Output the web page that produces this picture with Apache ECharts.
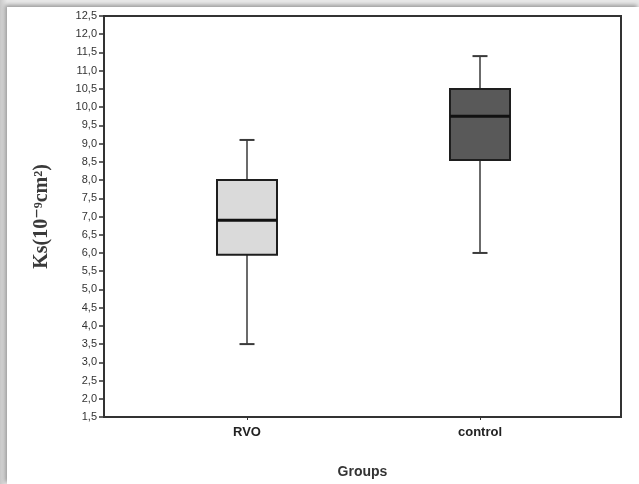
<!DOCTYPE html>
<html>
<head>
<meta charset="utf-8">
<script src="https://cdn.jsdelivr.net/npm/echarts@6/dist/echarts.min.js"></script>
<style>
  html, body { margin: 0; padding: 0; width: 639px; height: 484px; overflow: hidden; }
  body { background: linear-gradient(to right, #c8c8c8 0px, #e8e8e8 7px); }
  #main {
    position: absolute; left: 7px; top: 7px; width: 632px; height: 477px;
    background: #fff; box-shadow: -2px -2px 4px #999;
  }
</style>
</head>
<body>
<div id="main"></div>
<script>
  // groups on the x axis
  const groups = ['RVO', 'control'];
  // [min, q1, median, q3, max] per group
  const rvoStats = [3.5, 5.95, 6.9, 8.0, 9.1];
  const controlStats = [6.0, 8.55, 9.75, 10.5, 11.4];
  const boxFill = ['#dadada', '#595959'];

  const yMin = 1.5;
  const yMax = 12.5;
  const yStep = 0.5;

  const boxData = [
    [0].concat(rvoStats),
    [1].concat(controlStats)
  ];

  let myChart = echarts.init(document.getElementById('main'));

  function renderBox(params, api) {
    const x = api.value(0);
    const pMin = api.coord([x, api.value(1)]);
    const pQ1 = api.coord([x, api.value(2)]);
    const pMed = api.coord([x, api.value(3)]);
    const pQ3 = api.coord([x, api.value(4)]);
    const pMax = api.coord([x, api.value(5)]);
    const cx = pMed[0];
    const bw = 60;
    const cap = 15;
    const lineStyle = { stroke: '#3a3a3a', lineWidth: 1.5 };
    return {
      type: 'group',
      children: [
        { type: 'line', shape: { x1: cx, y1: pQ3[1], x2: cx, y2: pMax[1] }, style: lineStyle },
        { type: 'line', shape: { x1: cx, y1: pQ1[1], x2: cx, y2: pMin[1] }, style: lineStyle },
        { type: 'line', shape: { x1: cx - cap / 2, y1: pMax[1], x2: cx + cap / 2, y2: pMax[1] }, style: { stroke: '#3a3a3a', lineWidth: 2 } },
        { type: 'line', shape: { x1: cx - cap / 2, y1: pMin[1], x2: cx + cap / 2, y2: pMin[1] }, style: { stroke: '#3a3a3a', lineWidth: 2 } },
        {
          type: 'rect',
          shape: { x: cx - bw / 2, y: pQ3[1], width: bw, height: pQ1[1] - pQ3[1] },
          style: { fill: boxFill[x], stroke: '#1e1e1e', lineWidth: 2 }
        },
        { type: 'line', shape: { x1: cx - bw / 2, y1: pMed[1], x2: cx + bw / 2, y2: pMed[1] }, style: { stroke: '#111', lineWidth: 3 } }
      ]
    };
  }

  let option = {
    animation: false,
    grid: [
      // frame
      { left: 97, right: 18, top: 9, bottom: 67, show: true, borderColor: '#333', borderWidth: 2, backgroundColor: 'transparent' },
      // boxes
      { left: 123.5, right: 42.5, top: 9, bottom: 67 }
    ],
    xAxis: [
      {
        gridIndex: 0,
        type: 'value',
        min: 0,
        max: 1,
        name: 'Groups',
        nameLocation: 'middle',
        nameGap: 48,
        nameTextStyle: { fontFamily: 'Liberation Sans, Arial', fontWeight: 'bold', fontSize: 14, color: '#333' },
        axisLine: { show: false },
        axisTick: { show: false },
        axisLabel: { show: false },
        splitLine: { show: false }
      },
      {
        gridIndex: 1,
        type: 'category',
        data: groups,
        axisLine: { show: false },
        axisTick: { show: true, alignWithLabel: true, length: 3, lineStyle: { color: '#333', width: 1 } },
        axisLabel: { margin: 9, fontFamily: 'Liberation Sans, Arial', fontWeight: 'bold', fontSize: 13, color: '#222' },
        splitLine: { show: false }
      }
    ],
    yAxis: [
      {
        gridIndex: 0,
        type: 'value',
        min: yMin,
        max: yMax,
        interval: yStep,
        name: 'Ks(10\u207B\u2079cm\u00B2)',
        nameLocation: 'middle',
        nameGap: 52,
        nameTextStyle: { fontFamily: 'Liberation Serif, Times New Roman, DejaVu Serif', fontWeight: 'bold', fontSize: 20, color: '#3a3a3a' },
        axisLine: { show: true, lineStyle: { color: '#333', width: 2 } },
        axisTick: { show: true, length: 5, lineStyle: { color: '#333', width: 1.5 } },
        axisLabel: {
          margin: 7,
          fontFamily: 'Liberation Sans, Arial',
          fontSize: 11,
          color: '#333',
          formatter: function(v) {
            return v.toFixed(1).replace('.', ',');
          }
        },
        splitLine: { show: false }
      },
      {
        gridIndex: 1,
        type: 'value',
        min: yMin,
        max: yMax,
        show: false
      }
    ],
    series: [
      {
        type: 'custom',
        xAxisIndex: 1,
        yAxisIndex: 1,
        renderItem: renderBox,
        encode: { x: 0, y: [1, 2, 3, 4, 5] },
        data: boxData
      }
    ]
  };

  myChart.setOption(option);
</script>
</body>
</html>
